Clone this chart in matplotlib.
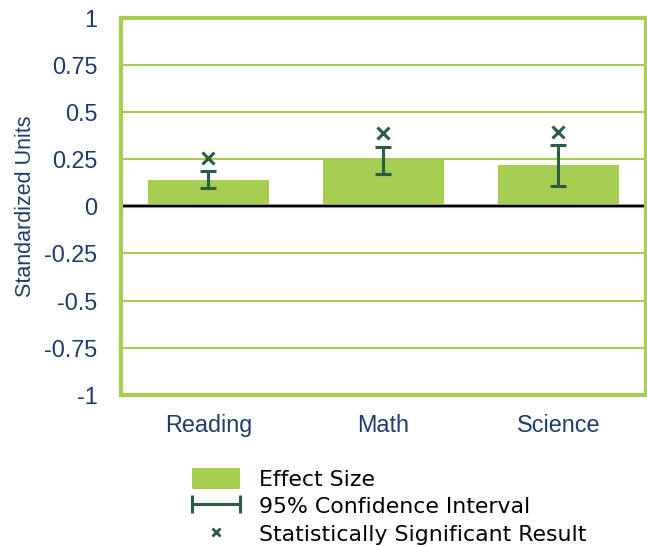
import numpy as np
import matplotlib.pyplot as plt
from matplotlib.patches import Patch
from matplotlib.lines import Line2D
from matplotlib.legend_handler import HandlerLine2D

subjects = ["Reading", "Math", "Science"]
effect = [0.14, 0.25, 0.22]
ci_low = [0.10, 0.17, 0.11]
ci_high = [0.19, 0.315, 0.325]
sig_marks = [0.255, 0.39, 0.395]
yticks = [1, 0.75, 0.5, 0.25, 0, -0.25, -0.5, -0.75, -1]
ytick_labels = ["1", "0.75", "0.5", "0.25", "0", "-0.25", "-0.5", "-0.75", "-1"]

bar_col = "#a6ce52"
frame_col = "#a6ce52"
dark = "#2b5e40"
navy = "#1f3a6e"

plt.rcParams['font.family'] = ['Liberation Sans', 'DejaVu Sans']

fig = plt.figure(figsize=(6.47, 5.46), dpi=100)
ax = fig.add_axes([0.187, 0.277, 0.811, 0.69])

x = np.arange(len(subjects))
ax.bar(x, effect, width=0.69, color=bar_col, zorder=2)
eff = np.array(effect)
yerr = [eff - np.array(ci_low), np.array(ci_high) - eff]
ax.errorbar(x, effect, yerr=yerr, fmt='none', ecolor=dark, elinewidth=2.2,
            capsize=5.5, capthick=2.2, zorder=3)
ax.plot(x, sig_marks, linestyle='none', marker='x', color=dark,
        markersize=8, markeredgewidth=2.2, zorder=3)

# zero line, dark with a faint grey shadow below
ax.axhline(0, color='#999999', linewidth=3, zorder=2.4)
ax.axhline(0, color='black', linewidth=1.5, zorder=2.5)
ax.set_ylim(-1, 1)
ax.set_xlim(-0.5, 2.5)
ax.set_yticks(yticks)
ax.set_yticklabels(ytick_labels)
ax.set_xticks(x)
ax.set_xticklabels(subjects)
ax.tick_params(length=0, labelsize=16.8, labelcolor=navy)
ax.tick_params(axis='x', pad=14)
ax.tick_params(axis='y', pad=17)
ax.grid(axis='y', color=frame_col, linewidth=1.5, zorder=1)
ax.set_axisbelow(True)
for s in ax.spines.values():
    s.set_color(frame_col)
    s.set_linewidth(3)
ax.set_ylabel("Standardized Units", fontsize=15.5, color=navy, labelpad=6)

ci_handle = Line2D([0, 1], [0, 0], color=dark, linewidth=2.2, marker='|',
                   markersize=13, markeredgewidth=2.2)
sig_handle = Line2D([], [], linestyle='none', marker='x', color=dark,
                    markersize=6, markeredgewidth=2)
handles = [Patch(facecolor=bar_col, edgecolor='none'), ci_handle, sig_handle]
labels = ["Effect Size", "95% Confidence Interval", "Statistically Significant Result"]
fig.legend(handles, labels, loc='upper left', bbox_to_anchor=(0.297, 0.143),
           frameon=False, prop={'family': 'DejaVu Sans', 'size': 15.8},
           handlelength=2.2, handleheight=1.1, handletextpad=0.85,
           labelspacing=0.25, borderpad=0, borderaxespad=0,
           handler_map={ci_handle: HandlerLine2D(numpoints=2, marker_pad=0),
                        sig_handle: HandlerLine2D(numpoints=1)})

fig.savefig("out.png", dpi=100)
